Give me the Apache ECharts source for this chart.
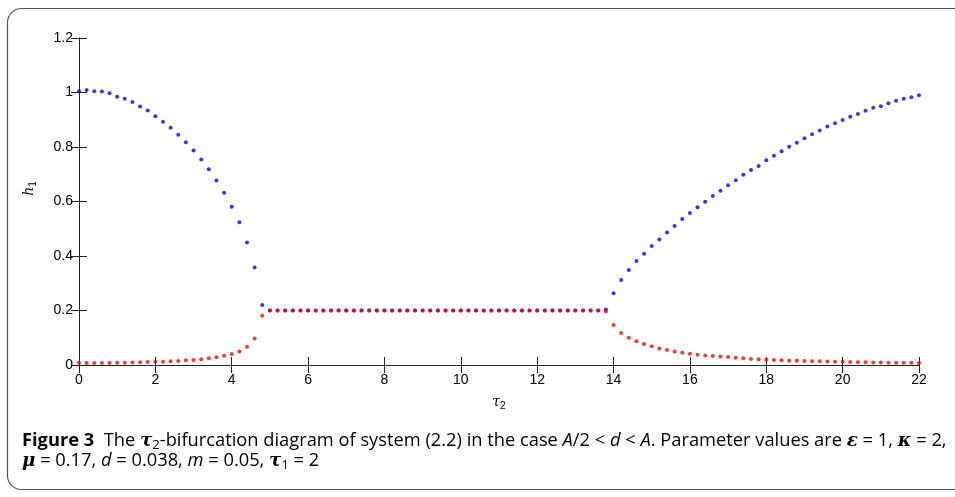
<!DOCTYPE html>
<html>
<head>
<meta charset="utf-8">
<script src="https://cdn.jsdelivr.net/npm/echarts@6/dist/echarts.min.js"></script>
<style>
  html, body { margin: 0; padding: 0; background: #fff; }
  #chart { width: 955px; height: 497px; }
</style>
</head>
<body>
<div id="chart"></div>
<script>
// tau_2 sample grid (step 0.2)
const tau = [
  0, 0.2, 0.4, 0.6, 0.8, 1, 1.2, 1.4, 1.6, 1.8,
  2, 2.2, 2.4, 2.6, 2.8, 3, 3.2, 3.4, 3.6, 3.8,
  4, 4.2, 4.4, 4.6, 4.8, 5, 5.2, 5.4, 5.6, 5.8,
  6, 6.2, 6.4, 6.6, 6.8, 7, 7.2, 7.4, 7.6, 7.8,
  8, 8.2, 8.4, 8.6, 8.8, 9, 9.2, 9.4, 9.6, 9.8,
  10, 10.2, 10.4, 10.6, 10.8, 11, 11.2, 11.4, 11.6, 11.8,
  12, 12.2, 12.4, 12.6, 12.8, 13, 13.2, 13.4, 13.6, 13.8,
  14, 14.2, 14.4, 14.6, 14.8, 15, 15.2, 15.4, 15.6, 15.8,
  16, 16.2, 16.4, 16.6, 16.8, 17, 17.2, 17.4, 17.6, 17.8,
  18, 18.2, 18.4, 18.6, 18.8, 19, 19.2, 19.4, 19.6, 19.8,
  20, 20.2, 20.4, 20.6, 20.8, 21, 21.2, 21.4, 21.6, 21.8,
  22
];

// h1 maxima (blue)
const hMax = [
  1.005, 1.009, 1.005, 1.004, 0.997, 0.984, 0.977, 0.965, 0.949, 0.934,
  0.913, 0.893, 0.871, 0.845, 0.817, 0.787, 0.754, 0.718, 0.677, 0.632,
  0.581, 0.524, 0.450, 0.358, 0.220, 0.2, 0.2, 0.2, 0.2, 0.2,
  0.2, 0.2, 0.2, 0.2, 0.2, 0.2, 0.2, 0.2, 0.2, 0.2,
  0.2, 0.2, 0.2, 0.2, 0.2, 0.2, 0.2, 0.2, 0.2, 0.2,
  0.2, 0.2, 0.2, 0.2, 0.2, 0.2, 0.2, 0.2, 0.2, 0.2,
  0.2, 0.2, 0.2, 0.2, 0.2, 0.2, 0.2, 0.2, 0.2, 0.204,
  0.263, 0.312, 0.349, 0.382, 0.408, 0.437, 0.461, 0.486, 0.510, 0.536,
  0.558, 0.579, 0.599, 0.620, 0.639, 0.660, 0.678, 0.698, 0.716, 0.730,
  0.751, 0.768, 0.784, 0.801, 0.816, 0.832, 0.847, 0.861, 0.875, 0.887,
  0.899, 0.911, 0.921, 0.933, 0.944, 0.950, 0.961, 0.970, 0.977, 0.983,
  0.990
];

// h1 minima (red)
const hMin = [
  0.0085, 0.007, 0.007, 0.007, 0.0075, 0.008, 0.0085, 0.009, 0.0098, 0.011,
  0.012, 0.012, 0.0135, 0.015, 0.017, 0.018, 0.021, 0.0245, 0.028, 0.034,
  0.040, 0.050, 0.067, 0.097, 0.181, 0.2, 0.2, 0.2, 0.2, 0.2,
  0.2, 0.2, 0.2, 0.2, 0.2, 0.2, 0.2, 0.2, 0.2, 0.2,
  0.2, 0.2, 0.2, 0.2, 0.2, 0.2, 0.2, 0.2, 0.2, 0.2,
  0.2, 0.2, 0.2, 0.2, 0.2, 0.2, 0.2, 0.2, 0.2, 0.2,
  0.2, 0.2, 0.2, 0.2, 0.2, 0.2, 0.2, 0.2, 0.2, 0.196,
  0.147, 0.117, 0.100, 0.087, 0.077, 0.069, 0.061, 0.055, 0.050, 0.045,
  0.041, 0.038, 0.035, 0.033, 0.031, 0.029, 0.027, 0.0245, 0.022, 0.021,
  0.019, 0.018, 0.017, 0.016, 0.0155, 0.015, 0.014, 0.0135, 0.013, 0.012,
  0.012, 0.011, 0.010, 0.010, 0.0095, 0.009, 0.0085, 0.0085, 0.0085, 0.008,
  0.0075
];

const xTicks = { min: 0, max: 22, interval: 2 };
const yTicks = { min: 0, max: 1.2, interval: 0.2 };

const chart = echarts.init(document.getElementById('chart'));

const axisFont = { color: '#000', fontFamily: 'Liberation Sans', fontSize: 14 };
const axLine = { lineStyle: { color: '#222', width: 1 } };
const tick = { inside: true, length: 8, lineStyle: { color: '#222', width: 1 } };

const capFont = 'Open Sans';
const capSize = 18.3;
const capRich = {
  b: { fontFamily: capFont, fontSize: capSize, fontWeight: 'bold', color: '#231f20' },
  n: { fontFamily: capFont, fontSize: capSize, color: '#231f20' },
  i: { fontFamily: capFont, fontSize: capSize, fontStyle: 'italic', color: '#231f20' },
  g: { fontFamily: 'DejaVu Serif', fontSize: capSize, fontStyle: 'italic', fontWeight: 'bold', color: '#231f20' },
  s: { fontFamily: capFont, fontSize: 13, color: '#231f20', padding: [9, 0, 0, 0] },
  l: { fontFamily: capFont, fontSize: capSize, color: '#2b58c8' }
};

const pack = ys => tau.map((t, i) => [t, ys[i]]);

chart.setOption({
  animation: false,
  grid: { left: 79, right: 36, top: 38, bottom: 132 },
  graphic: [
    {
      type: 'rect',
      shape: { x: 7.5, y: 8.5, width: 1000, height: 481, r: [14, 0, 0, 14] },
      style: { fill: 'none', stroke: '#555', lineWidth: 1.2 },
      silent: true
    },
    {
      type: 'text', x: 22, y: 441,
      style: {
        text: '{b|Figure 3}{n|  The }{g|τ}{s|2}{n|-bifurcation diagram of system (}{l|2.2}{n|) in the case }{i|A}{n|/2 < }{i|d}{n| < }{i|A}{n|. Parameter values are }{g|ε}{n| = 1, }{g|κ}{n| = 2,}',
        rich: capRich, verticalAlign: 'middle'
      }
    },
    {
      type: 'text', x: 22, y: 461,
      style: {
        text: '{g|μ}{n| = 0.17, }{i|d}{n| = 0.038, }{i|m}{n| = 0.05, }{g|τ}{s|1}{n| = 2}',
        rich: capRich, verticalAlign: 'middle'
      }
    }
  ],
  xAxis: [
    {
      type: 'value', ...xTicks,
      name: '{t|τ}{s|2}', nameLocation: 'middle', nameGap: 29,
      nameTextStyle: {
        rich: {
          t: { fontFamily: 'DejaVu Serif', fontStyle: 'italic', fontSize: 14, color: '#000' },
          s: { fontFamily: 'Liberation Sans', fontSize: 10, color: '#000', padding: [7, 0, 0, 0] }
        }
      },
      axisLine: axLine, axisTick: tick, splitLine: { show: false },
      axisLabel: { ...axisFont, margin: 8 }
    },
    {
      type: 'value', ...xTicks, position: 'top',
      axisLine: axLine, axisTick: tick, splitLine: { show: false },
      axisLabel: { show: false }
    }
  ],
  yAxis: [
    {
      type: 'value', ...yTicks,
      name: '{t|h}{s|1}', nameLocation: 'middle', nameGap: 41, nameRotate: 90,
      nameTextStyle: {
        padding: [0, 0, 0, 26],
        rich: {
          t: { fontFamily: 'DejaVu Serif', fontStyle: 'italic', fontSize: 14, color: '#000' },
          s: { fontFamily: 'Liberation Sans', fontSize: 10, color: '#000', padding: [7, 0, 0, 0] }
        }
      },
      axisLine: axLine, axisTick: tick, splitLine: { show: false },
      axisLabel: { ...axisFont, margin: 6 }
    },
    {
      type: 'value', ...yTicks, position: 'right',
      axisLine: axLine, axisTick: tick, splitLine: { show: false },
      axisLabel: { show: false }
    }
  ],
  series: [
    {
      name: 'max', type: 'scatter', data: pack(hMax),
      symbol: 'circle', symbolSize: 4, clip: false,
      itemStyle: { color: '#0000ff' }
    },
    {
      name: 'min', type: 'scatter', data: pack(hMin),
      symbol: 'circle', symbolSize: 4, clip: false,
      itemStyle: { color: '#ff0000' }
    }
  ]
});
</script>
</body>
</html>
